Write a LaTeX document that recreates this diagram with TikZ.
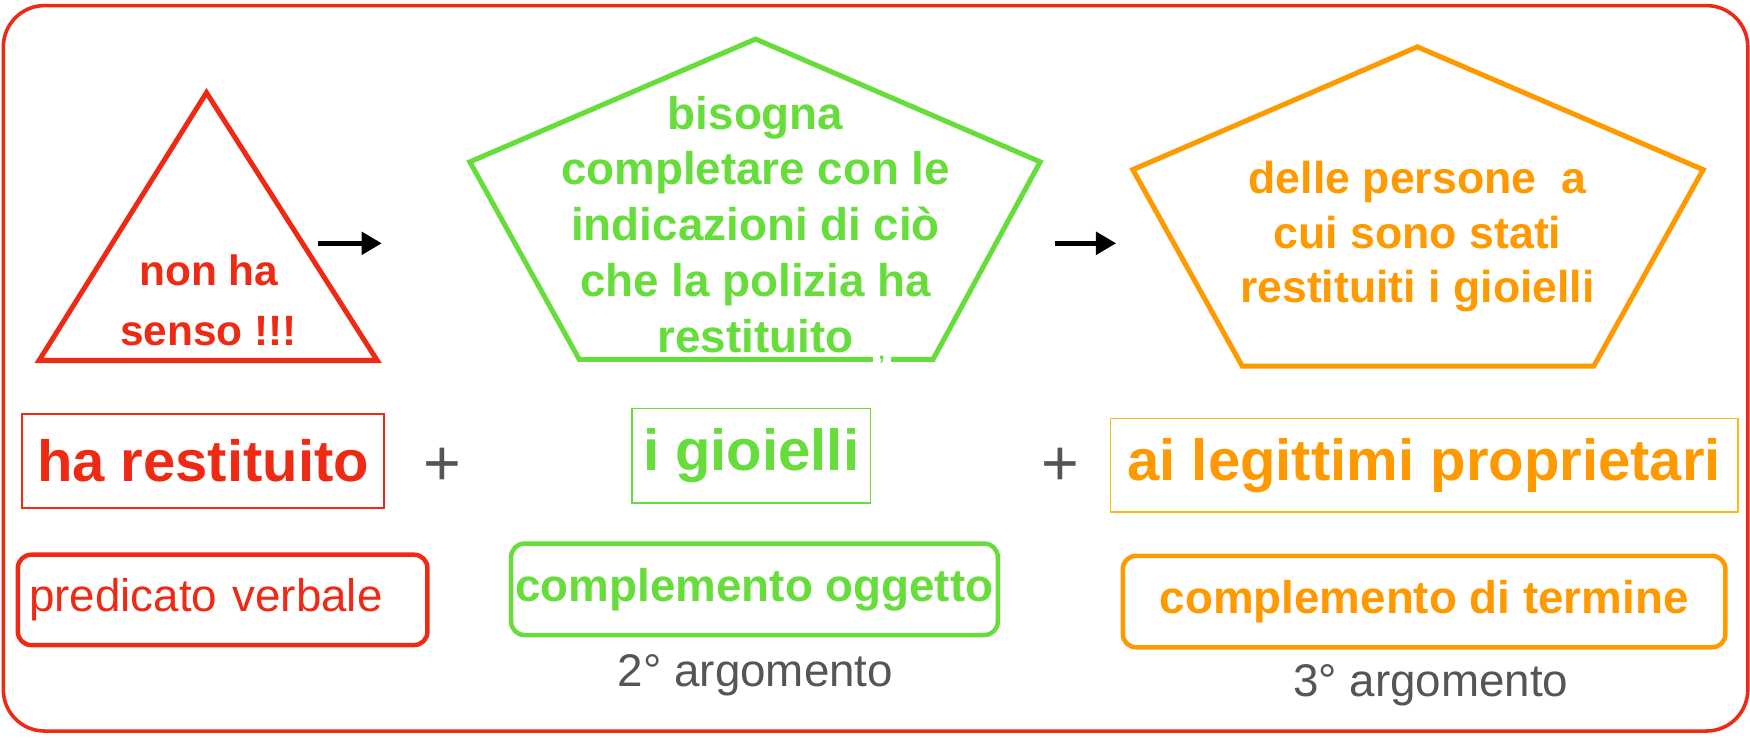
\documentclass[tikz,border=0pt]{standalone}
\usepackage{fontspec}
\setmainfont{Liberation Sans}
\usetikzlibrary{arrows.meta}
\definecolor{cred}{HTML}{EE2A14}
\definecolor{cgreen}{HTML}{66DD3A}
\definecolor{corange}{HTML}{FF9900}
\definecolor{cgold}{HTML}{FFBB11}
\definecolor{cgray}{HTML}{555555}
\tikzset{
  shapeline/.style={line width=4.5pt, line join=miter},
  flowarrow/.style={line width=4pt, -{Triangle[length=18pt,width=20pt]}},
  wordbox/.style={line width=1.6pt, inner sep=0pt, font=\bfseries\fontsize{52}{60}\selectfont, minimum height=84pt},
  rolebox/.style={line width=4pt, rounded corners=12pt, inner sep=0pt, minimum height=82pt, font=\bfseries\fontsize{41}{45}\selectfont},
  plussign/.style={text=cgray, font=\fontsize{58}{60}\selectfont},
  arglabel/.style={text=cgray, font=\fontsize{41}{45}\selectfont},
}
\begin{document}
\begin{tikzpicture}[x=1pt,y=-1pt]
\useasboundingbox (0,0) rectangle (1568,661);
% frame
\draw[cred, line width=3.2pt, rounded corners=37pt] (3,5) rectangle (1566,655);
% triangle
\draw[cred, shapeline] (185,83) -- (338,323) -- (35,323) -- cycle;
\node[text=cred, align=center, font=\bfseries\fontsize{38}{54}\selectfont] (nh) at (187,269) {non ha\\senso !!!};
% arrow 1
\coordinate (a1s) at (285,218);
\coordinate (a1e) at (342,218);
\draw[flowarrow] (a1s) -- (a1e);
% green pentagon
\draw[cgreen, shapeline] (677,35) -- (932,145) -- (836,322) -- (519,322) -- (421,145) -- cycle;
\node[text=cgreen, align=center, font=\bfseries\fontsize{41}{50}\selectfont] (bis) at (677,201) {bisogna\\completare con le\\indicazioni di ciò\\che la polizia ha\\restituito};
\node[fill=white, inner sep=0pt, minimum width=16pt, minimum height=8pt, text=cgreen, font=\bfseries\fontsize{20}{20}\selectfont] (cm) at (790,322) {,};
% arrow 2
\coordinate (a2s) at (945,218);
\coordinate (a2e) at (1000,218);
\draw[flowarrow] (a2s) -- (a2e);
% orange pentagon
\draw[corange, shapeline] (1270,42) -- (1526,152) -- (1428,328) -- (1113,328) -- (1015,152) -- cycle;
\node[text=corange, align=center, font=\bfseries\fontsize{40}{49}\selectfont] (dp) at (1270,212) {delle persone\ \ a\\cui sono stati\\restituiti i gioielli};
% row 2
\node[wordbox, draw=cred, text=cred, minimum width=324pt] (hr) at (182,413) {ha restituito};
\node[plussign] (p1) at (396,418) {+};
\node[wordbox, draw=cgreen, text=cgreen, minimum width=214pt, minimum height=85pt] (ig) at (673,408.5) {i gioielli};
\node[plussign] (p2) at (950,418) {+};
\node[wordbox, draw=cgold, text=corange, minimum width=562pt] (alp) at (1276,417) {ai legittimi proprietari};
% row 3
\node[rolebox, draw=cred, text=cred, font=\fontsize{41}{45}\selectfont, text width=347pt, inner xsep=10pt, align=left, minimum height=81pt] (pv) at (199.5,537.5) {predicato verbale};
\node[rolebox, draw=cgreen, text=cgreen, minimum width=436pt] (co) at (676,528) {complemento oggetto};
\node[rolebox, draw=corange, text=corange, minimum width=540pt] (cdt) at (1276,539) {complemento di termine};
% labels
\node[arglabel] (l2) at (677,605) {2° argomento};
\node[arglabel] (l3) at (1282,614) {3° argomento};
\end{tikzpicture}
\end{document}
